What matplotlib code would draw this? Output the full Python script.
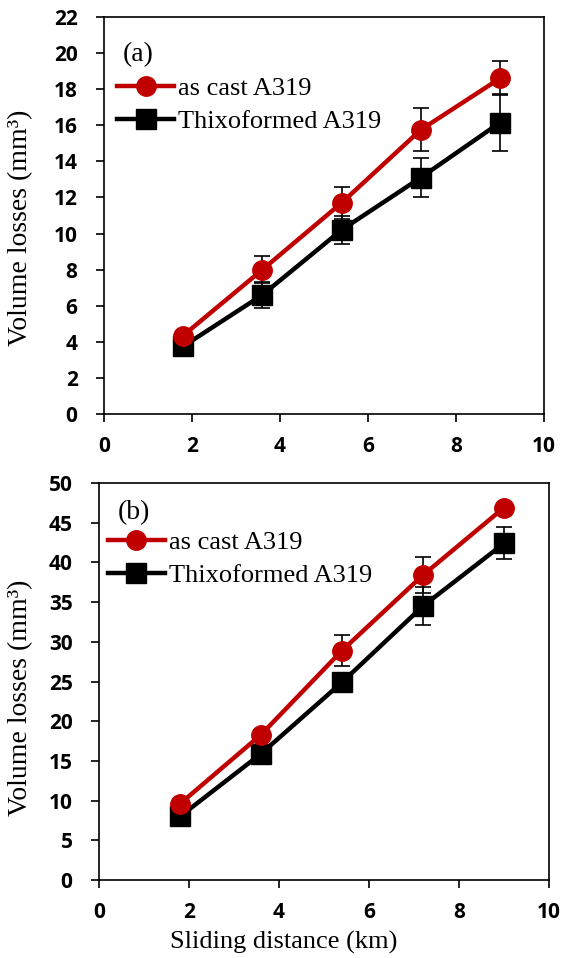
import matplotlib
matplotlib.use("Agg")
import matplotlib.pyplot as plt
from matplotlib.lines import Line2D

# Data
distance = [1.8, 3.6, 5.4, 7.2, 9.0]
series_names = ["as cast A319", "Thixoformed A319"]

a_cast = [4.35, 8.0, 11.7, 15.75, 18.6]
a_cast_err = [0.1, 0.75, 0.9, 1.2, 0.95]
a_thixo = [3.75, 6.6, 10.2, 13.1, 16.15]
a_thixo_err = [0.1, 0.72, 0.8, 1.1, 1.6]

b_cast = [9.6, 18.3, 28.9, 38.4, 46.9]
b_cast_err = [0.4, 0.6, 1.95, 2.3, 0.5]
b_thixo = [8.0, 15.9, 24.9, 34.5, 42.4]
b_thixo_err = [0.3, 0.5, 0.6, 2.4, 2.0]

a_yticks = list(range(0, 23, 2))
b_yticks = list(range(0, 51, 5))
xticks = [0, 2, 4, 6, 8, 10]
panel_labels = ["(a)", "(b)"]
ylabel = "Volume losses (mm³)"
xlabel = "Sliding distance (km)"

RED = "#C00000"
SERIF = ["Liberation Serif", "DejaVu Serif"]
TICKFONT = "Open Sans"

fig = plt.figure(figsize=(5.62, 9.58), dpi=100)
W, H = 562, 958

def ax_at(l, t, r, b):
    return fig.add_axes([l / W, 1 - b / H, (r - l) / W, (b - t) / H])

ax_a = ax_at(104, 17, 544, 414)
ax_b = ax_at(99, 483, 549, 880)

def draw(ax, cast, cast_err, thixo, thixo_err, yticks, label, label_pos,
         leg_anchor, ylab_pos):
    ax.errorbar(distance, cast, yerr=cast_err, color=RED, lw=3.2, marker="o",
                ms=14, ecolor="black", elinewidth=1.2, capsize=5.5, capthick=1.2,
                zorder=3)
    ax.errorbar(distance, thixo, yerr=thixo_err, color="black", lw=3.2, marker="s",
                ms=14, ecolor="black", elinewidth=1.2, capsize=5.5, capthick=1.2,
                zorder=2)
    ax.set_xlim(0, 10)
    ax.set_ylim(yticks[0], yticks[-1])
    ax.set_xticks(xticks)
    ax.set_yticks(yticks)
    ax.tick_params(direction="out", length=6, width=1.2, labelsize=15)
    ax.tick_params(axis="y", pad=13)
    ax.tick_params(axis="x", pad=10)
    for t in ax.get_xticklabels() + ax.get_yticklabels():
        t.set_fontfamily(TICKFONT)
        t.set_fontweight("bold")
    for s in ax.spines.values():
        s.set_linewidth(1.2)
    ax.set_ylabel(ylabel, fontfamily=SERIF, fontsize=20)
    ax.yaxis.set_label_coords(*ylab_pos)
    ax.text(label_pos[0], label_pos[1], label, transform=ax.transAxes, fontfamily=SERIF,
            fontsize=20, va="center", ha="left")
    handles = [
        Line2D([], [], color=RED, lw=3.2, marker="o", ms=14),
        Line2D([], [], color="black", lw=3.2, marker="s", ms=14),
    ]
    ax.legend(handles, series_names, loc="upper left", bbox_to_anchor=leg_anchor,
              frameon=False, prop={"family": SERIF, "size": 19}, handlelength=2.15,
              handletextpad=0.15, borderpad=0, labelspacing=0.37, borderaxespad=0)

draw(ax_a, a_cast, a_cast_err, a_thixo, a_thixo_err, a_yticks, panel_labels[0],
     (0.043, 0.905), (0.03, 0.85), (-0.161, 0.47))
draw(ax_b, b_cast, b_cast_err, b_thixo, b_thixo_err, b_yticks, panel_labels[1],
     (0.042, 0.925), (0.02, 0.88), (-0.147, 0.458))

fig.text(284 / W, 1 - 942 / H, xlabel, fontfamily=SERIF, fontsize=19,
         ha="center", va="center")

fig.savefig("out.png", dpi=100)
